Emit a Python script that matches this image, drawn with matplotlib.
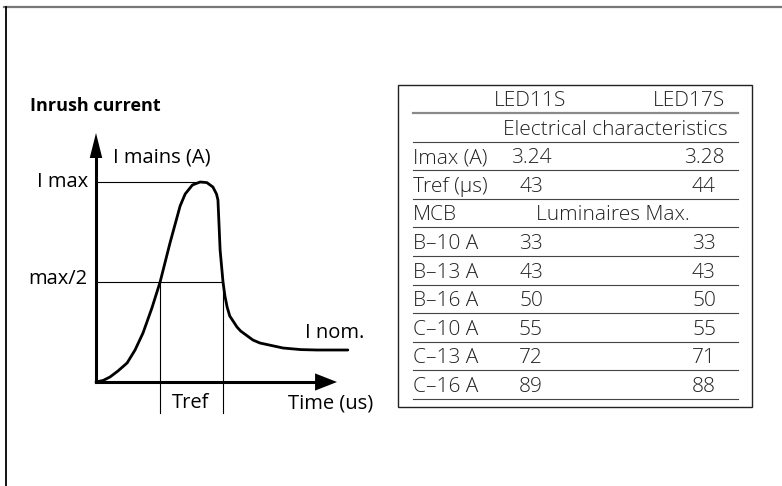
#!/usr/bin/env python3
"""Inrush current schematic with the LED11S / LED17S MCB table."""

import matplotlib

matplotlib.use("Agg")
import matplotlib.pyplot as plt

plt.rcParams["font.family"] = ["Open Sans", "DejaVu Sans"]

# schematic inrush curve, normalised: time 0..1 = axis length, current 1 = I max
curve_t = [0.0, 0.03, 0.058, 0.091, 0.129, 0.162, 0.195, 0.232, 0.266, 0.307,
           0.349, 0.37, 0.40, 0.432, 0.46, 0.485, 0.50, 0.506, 0.51, 0.515,
           0.527, 0.535, 0.544, 0.555, 0.585, 0.60, 0.651, 0.68, 0.776, 0.85,
           0.917, 1.045]
curve_i = [0.0, 0.008, 0.025, 0.055, 0.095, 0.16, 0.245, 0.37, 0.5, 0.695,
           0.88, 0.94, 0.985, 1.0, 0.997, 0.975, 0.94, 0.91, 0.80, 0.66,
           0.5, 0.43, 0.375, 0.33, 0.275, 0.255, 0.21, 0.195, 0.17, 0.162,
           0.16, 0.16]
i_max = 1.0
i_half = 0.5
tref_start, tref_end = 0.266, 0.527

# table
models = ["LED11S", "LED17S"]
imax_vals = ["3.24", "3.28"]
tref_vals = ["43", "44"]
mcb_types = ["B-10 A", "B-13 A", "B-16 A", "C-10 A", "C-13 A", "C-16 A"]
lum_led11s = [33, 43, 50, 55, 72, 89]
lum_led17s = [33, 43, 50, 55, 71, 88]

W, H = 782, 486
fig = plt.figure(figsize=(W / 100, H / 100), dpi=100)

# background axes in pixel units for frame, labels and table
bg = fig.add_axes([0, 0, 1, 1])
bg.set_xlim(0, W)
bg.set_ylim(H, 0)
bg.axis("off")
bg.plot([4, W], [7, 7], color="#777777", lw=1.6)
bg.plot([5.5, 5.5], [7, H], color="black", lw=1.3)

# diagram axes: origin at (96, 382), t=1 -> 241 px, I=1 -> 200 px
x0, y0, sx, sy = 96, 382, 241, 200
t_hi, i_hi = 1.045, 1.245
ax = fig.add_axes([x0 / W, (H - y0) / H, t_hi * sx / W, i_hi * sy / H])
ax.set_xlim(0, t_hi)
ax.set_ylim(0, i_hi)
ax.axis("off")

lw_thick, lw_thin = 2.2, 0.8
ax.plot(curve_t, curve_i, color="black", lw=2.0, solid_joinstyle="round",
        solid_capstyle="round", clip_on=False)
ax.plot([0, 0], [0, 1.13], color="black", lw=lw_thick, clip_on=False)
ax.plot([0, 0.92], [0, 0], color="black", lw=lw_thick, clip_on=False)
ax.fill([-0.026, 0.026, 0], [1.12, 1.12, i_hi], color="black", lw=0, clip_on=False)
ax.fill([0.909, 0.909, 1.0], [-0.043, 0.043, 0], color="black", lw=0, clip_on=False)
ax.plot([0, 0.432], [i_max, i_max], color="black", lw=lw_thin, clip_on=False)
ax.plot([0, tref_end], [i_half, i_half], color="black", lw=lw_thin, clip_on=False)
for t in (tref_start, tref_end):
    ax.plot([t, t], [i_half, -0.155], color="black", lw=lw_thin, clip_on=False)

fs = 14.5
bg.text(30, 106, "Inrush current", fontsize=13, fontweight="bold", va="center")
bg.text(113, 157, "I mains (A)", fontsize=fs, va="center")
bg.text(88, 182, "I max", fontsize=fs, va="center", ha="right")
bg.text(87, 279, "max/2", fontsize=fs, va="center", ha="right")
bg.text(305, 333, "I nom.", fontsize=fs, va="center")
bg.text(191, 403, "Tref", fontsize=fs, va="center", ha="center")
bg.text(288, 403, "Time (us)", fontsize=fs, va="center")

# table frame and rules
bg.add_patch(plt.Rectangle((398, 85), 354, 322, fill=False, ec="#222222", lw=1.0))
row_pitch = 28.6
first_rule = 113
n_rows = 5 + len(mcb_types)
for k in range(n_rows):
    y = first_rule + k * row_pitch
    if k == 0:
        bg.plot([413, 738], [y, y], color="#8a8a8a", lw=1.6)
    else:
        bg.plot([413, 738], [y, y], color="#444444", lw=0.8)

tw = dict(fontsize=15, fontweight="light", va="center", color="#222222")
label_x, col1_x, col2_x = 413, 531, 704


def row_y(k):
    return first_rule + k * row_pitch - 12


bg.text(530, row_y(0), models[0], ha="center", **tw)
bg.text(725, row_y(0), models[1], ha="right", **tw)
bg.text(615, row_y(1), "Electrical characteristics", ha="center", **tw)
bg.text(label_x, row_y(2), "Imax (A)", ha="left", **tw)
bg.text(col1_x, row_y(2), imax_vals[0], ha="center", **tw)
bg.text(col2_x, row_y(2), imax_vals[1], ha="center", **tw)
bg.text(label_x, row_y(3), "Tref (µs)", ha="left", **tw)
bg.text(col1_x, row_y(3), tref_vals[0], ha="center", **tw)
bg.text(col2_x, row_y(3), tref_vals[1], ha="center", **tw)
bg.text(label_x, row_y(4), "MCB", ha="left", **tw)
bg.text(613, row_y(4), "Luminaires Max.", ha="center", **tw)
for j, (mcb, a, b) in enumerate(zip(mcb_types, lum_led11s, lum_led17s)):
    k = 5 + j
    bg.text(label_x, row_y(k), mcb.replace("-", "–"), ha="left", **tw)
    bg.text(col1_x, row_y(k), str(a), ha="center", **tw)
    bg.text(col2_x, row_y(k), str(b), ha="center", **tw)

fig.savefig("out.png", dpi=100)
plt.close(fig)
